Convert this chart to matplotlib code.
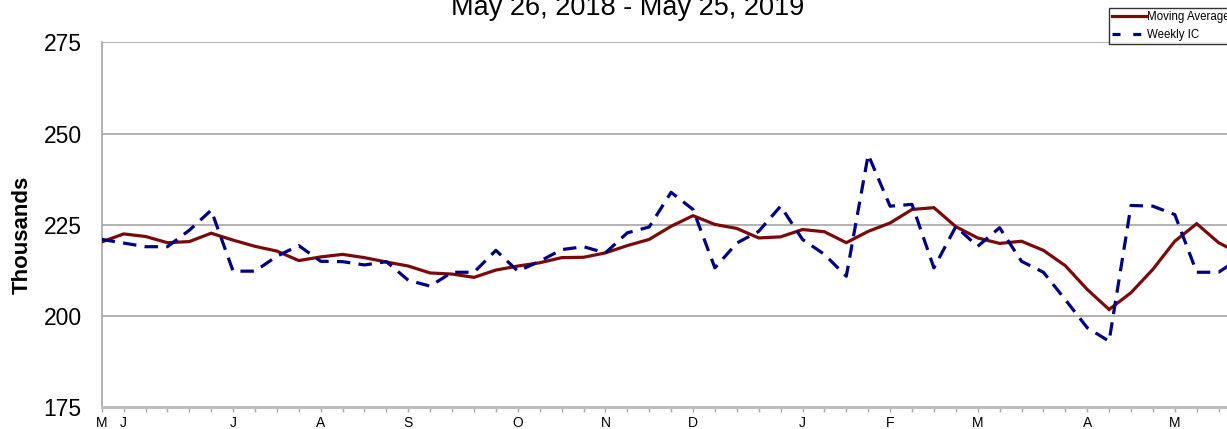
import matplotlib
matplotlib.use("Agg")
import matplotlib.pyplot as plt
from matplotlib.lines import Line2D

plt.rcParams['font.family'] = ['Liberation Sans', 'DejaVu Sans']

title = "May 26, 2018 - May 25, 2019"
ylabel = "Thousands"

weekly_ic = [221, 220, 219, 219, 223.5, 229, 212.3, 212.3, 216.4, 219.3,
             215, 214.9, 214, 214.9, 209.8, 208.2, 212, 212, 218, 212.3,
             215, 218.2, 219, 217.3, 222.8, 224.4, 233.9, 229.2, 213.2, 220,
             223.2, 230.1, 221, 216.9, 210.9, 244.2, 230.1, 230.6, 213.2, 224.5,
             219.1, 224.2, 215, 212, 204.5, 196.8, 193.1, 230.3, 230.1, 227.8,
             212, 212, 216]
moving_avg = [220.3, 222.5, 221.8, 220.1, 220.4, 222.7, 220.8, 219.1, 217.8, 215.2,
              216.2, 216.9, 216, 214.8, 213.7, 211.8, 211.5, 210.6, 212.6, 213.7,
              214.6, 216, 216.1, 217.3, 219.3, 221, 224.6, 227.5, 225.1, 224,
              221.4, 221.7, 223.7, 223.1, 220.1, 223.2, 225.5, 229.2, 229.7, 224.5,
              221.4, 219.9, 220.5, 218, 213.8, 207.3, 201.8, 206.4, 212.8, 220.5,
              225.3, 220.1, 217]
month_labels = {0: "M", 1: "J", 6: "J", 10: "A", 14: "S", 19: "O", 23: "N",
                27: "D", 32: "J", 36: "F", 40: "M", 45: "A", 49: "M"}
yticks = [175, 200, 225, 250, 275]

W, H = 1227, 429
fig = plt.figure(figsize=(W / 100, H / 100), dpi=100)
left, right, top, bottom = 101.7, 1240.5, 42.3, 407.3
ax = fig.add_axes([left / W, 1 - bottom / H, (right - left) / W, (bottom - top) / H])

x = list(range(len(weekly_ic)))
red = '#7a0a0a'
blue = '#000080'
ax.plot(x, moving_avg, color=red, lw=2.3, solid_joinstyle='miter', zorder=3)
ax.plot(x, weekly_ic, color=blue, lw=2.3, linestyle=(0, (4.2, 2.6)), zorder=3)

ax.set_xlim(0, len(weekly_ic) - 1)
ax.set_ylim(175, 275)
ax.set_yticks(yticks)
ax.set_yticklabels([str(v) for v in yticks], fontsize=16.5)
ax.tick_params(axis='y', length=0, pad=14.5)
ax.yaxis.grid(True, color='#a6a6a6', lw=1.2)
ax.set_axisbelow(True)

ax.set_xticks(x)
ax.set_xticklabels([month_labels.get(i, "") for i in x], fontsize=10)
ax.tick_params(axis='x', length=3.6, width=1, color='#a6a6a6', direction='out', pad=2.5)

for s in ['top', 'right']:
    ax.spines[s].set_visible(False)
ax.spines['left'].set_color('#a6a6a6')
ax.spines['left'].set_linewidth(1.2)
ax.spines['bottom'].set_color('#bdbdbd')
ax.spines['bottom'].set_linewidth(2.2)

ax.set_ylabel(ylabel, fontsize=16, fontweight='bold')
ax.yaxis.set_label_coords(-(left - 33) / (right - left), 0.472)

fig.text(628 / W, 1 - 15 / H, title, ha='center', va='baseline', fontsize=19.5)

handles = [Line2D([], [], color=red, lw=2.3),
           Line2D([], [], color=blue, lw=2.3, linestyle=(0, (2.5, 4)))]
leg = fig.legend(handles, ["Moving Average", "Weekly IC"], loc='upper left',
                 bbox_to_anchor=(1109 / W, 1 - 8 / H), fontsize=8.3, frameon=True,
                 fancybox=False, edgecolor='black', borderpad=0.3,
                 handlelength=2.9, handletextpad=0.1, labelspacing=0.45,
                 borderaxespad=0, handleheight=0.7)
leg.get_frame().set_linewidth(1.0)

fig.savefig("out.png", dpi=100)
